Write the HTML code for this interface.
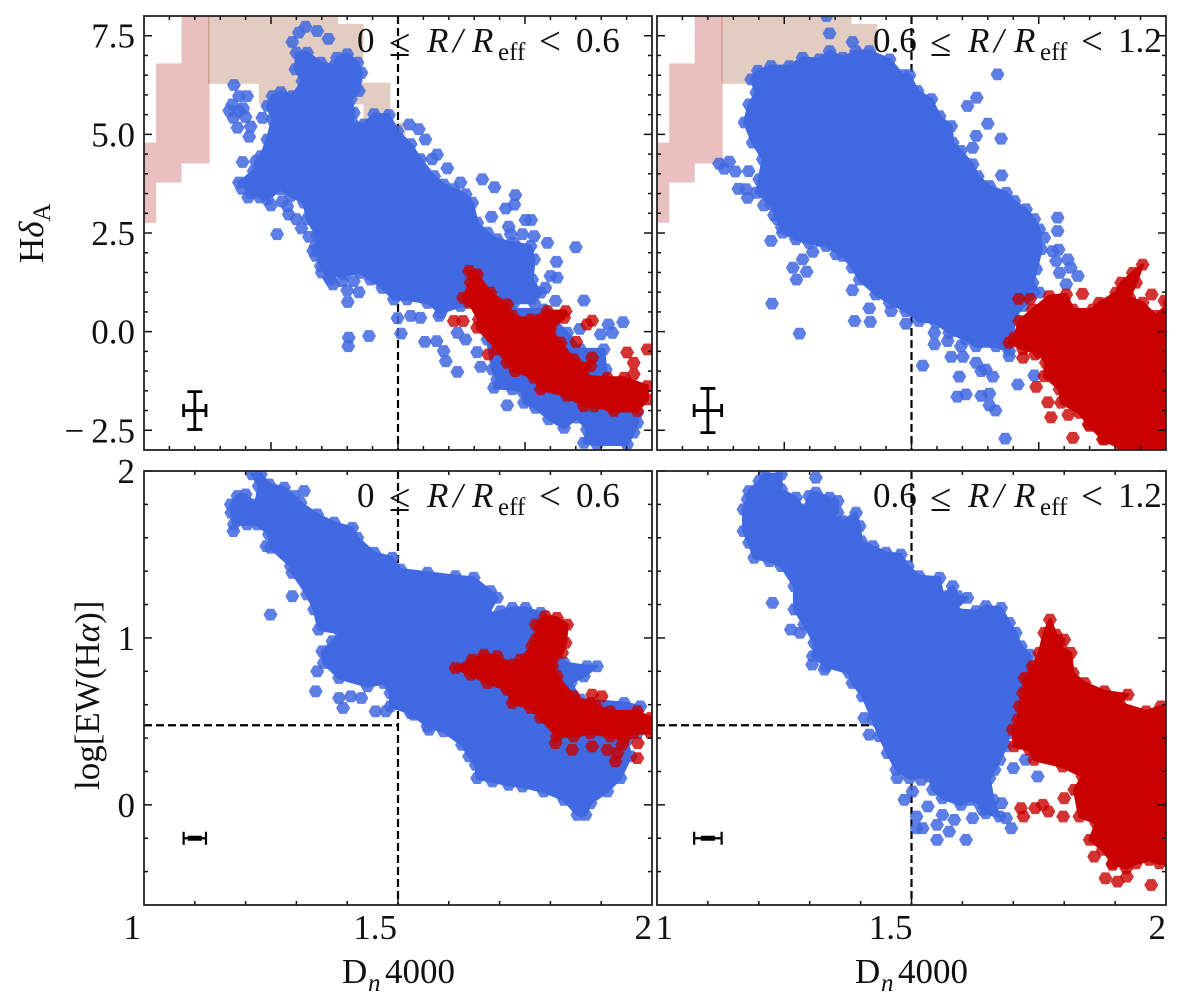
<!DOCTYPE html>
<html lang="en">
<head>
<meta charset="utf-8">
<title>Hδ and EW(Hα) versus Dn4000</title>
<style>
  html, body { margin: 0; padding: 0; background: #fff; }
  svg { display: block; }
  text { font-family: "Liberation Serif", "DejaVu Serif", serif; fill: #111; }
</style>
</head>
<body>
<svg id="figure" xmlns="http://www.w3.org/2000/svg" width="1200" height="1007" viewBox="0 0 1200 1007">
  <rect x="0" y="0" width="1200" height="1007" fill="#fff"/>
  <g id="panels"></g>

  <g font-size="35">
    <text y="52"><tspan x="357">0</tspan><tspan x="389" y="56" font-size="39">≤</tspan><tspan x="427" y="52" font-style="italic">R</tspan><tspan x="453" font-style="italic">/</tspan><tspan x="472" font-style="italic">R</tspan><tspan x="498" y="60" font-size="25">eff</tspan><tspan x="539" y="54" font-size="39">&lt;</tspan><tspan x="576" y="52">0.6</tspan></text>
  </g>
  <g font-size="35">
    <text y="52"><tspan x="873">0.6</tspan><tspan x="930" y="56" font-size="39">≤</tspan><tspan x="968" y="52" font-style="italic">R</tspan><tspan x="994" font-style="italic">/</tspan><tspan x="1014" font-style="italic">R</tspan><tspan x="1040" y="60" font-size="25">eff</tspan><tspan x="1081" y="54" font-size="39">&lt;</tspan><tspan x="1118" y="52">1.2</tspan></text>
  </g>
  <g font-size="35">
    <text y="507"><tspan x="357">0</tspan><tspan x="389" y="511" font-size="39">≤</tspan><tspan x="427" y="507" font-style="italic">R</tspan><tspan x="453" font-style="italic">/</tspan><tspan x="472" font-style="italic">R</tspan><tspan x="498" y="515" font-size="25">eff</tspan><tspan x="539" y="509" font-size="39">&lt;</tspan><tspan x="576" y="507">0.6</tspan></text>
  </g>
  <g font-size="35">
    <text y="507"><tspan x="873">0.6</tspan><tspan x="930" y="511" font-size="39">≤</tspan><tspan x="968" y="507" font-style="italic">R</tspan><tspan x="994" font-style="italic">/</tspan><tspan x="1014" font-style="italic">R</tspan><tspan x="1040" y="515" font-size="25">eff</tspan><tspan x="1081" y="509" font-size="39">&lt;</tspan><tspan x="1118" y="507">1.2</tspan></text>
  </g>

  <text y="983" font-size="35"><tspan x="342">D</tspan><tspan x="368" y="991" font-size="25" font-style="italic">n</tspan><tspan x="385" y="983">4000</tspan></text>
  <text y="983" font-size="35"><tspan x="855">D</tspan><tspan x="881" y="991" font-size="25" font-style="italic">n</tspan><tspan x="898" y="983">4000</tspan></text>
  <text transform="translate(43,263) rotate(-90)" font-size="35">H<tspan font-style="italic">δ</tspan><tspan dy="7" font-size="25">A</tspan></text>
  <text transform="translate(99,790) rotate(-90)" font-size="35">log[EW(H<tspan font-style="italic">α</tspan>)]</text>
</svg>

<script>
// ---------- axis data ----------
const xLimits = [1, 2];
const yLimitsTop = [-3, 8];
const yLimitsBottom = [-0.6, 2];

const xMajorTopRow = [1.25, 1.5, 1.75];
const xMinorTopRow = [1.05, 1.1, 1.15, 1.2, 1.3, 1.35, 1.4, 1.45, 1.55, 1.6, 1.65, 1.7, 1.8, 1.85, 1.9, 1.95];
const xMajorBottomRow = [1.5];
const xMinorBottomRow = [1.1, 1.2, 1.3, 1.4, 1.6, 1.7, 1.8, 1.9];
const yMajorTop = [-2.5, 0, 2.5, 5, 7.5];
const yMinorTop = [-2, -1.5, -1, -0.5, 0.5, 1, 1.5, 2, 3, 3.5, 4, 4.5, 5.5, 6, 6.5, 7];
const yMajorBottom = [0, 1, 2];
const yMinorBottom = [-0.4, -0.2, 0.2, 0.4, 0.6, 0.8, 1.2, 1.4, 1.6, 1.8];
const yLabelsTop = ['−\u20092.5', '0.0', '2.5', '5.0', '7.5'];
const yLabelsBottom = ['0', '1', '2'];
const xLabels = ['1', '1.5', '2'];
const xLabelValues = [1, 1.5, 2];

// ---------- shaded model regions ----------
const pinkEdges = [1, 1.024, 1.074, 1.129];
const pinkLower = [2.76, 3.78, 4.26];
const pinkUpper = [4.79, 6.80, 8.3];
const tanEdges = [1.126, 1.226, 1.382, 1.432, 1.485, 1.515];
const tanLower = [6.28, 5.76, 5.76, 4.96, 4.96];
const tanUpper = [8.3, 8.3, 7.8, 6.31, 5.3];

// ---------- reference lines ----------
const dn4000Divider = 1.5;
const ewDivider = 0.477;

// ---------- error bars: [x, y, xErr, yErr] ----------
const errTopLeft = [1.1, -2, 0.022, 0.48];
const errTopRight = [1.1, -2, 0.027, 0.56];
const errBottomLeft = [1.1, -0.2, 0.022, 0.012];
const errBottomRight = [1.1, -0.2, 0.027, 0.012];

// ---------- top-left panel ----------
const tlBlueRim = [[1.230,4.45],[1.243,4.87],[1.253,5.38],[1.243,5.72],[1.253,5.97],[1.269,6.07],[1.292,5.97],[1.312,6.35],[1.298,6.65],[1.300,7.07],[1.321,7.07],[1.348,6.82],[1.374,6.73],[1.380,6.94],[1.400,7.03],[1.420,6.82],[1.428,6.56],[1.423,6.10],[1.407,5.89],[1.413,5.55],[1.410,5.30],[1.433,5.25],[1.453,5.51],[1.482,5.49],[1.499,5.08],[1.525,4.75],[1.544,4.37],[1.571,3.94],[1.590,3.73],[1.610,3.61],[1.633,3.48],[1.646,3.27],[1.656,2.76],[1.676,2.51],[1.695,2.34],[1.728,2.25],[1.761,2.17],[1.768,1.83],[1.764,1.32],[1.781,0.99],[1.768,0.73],[1.728,0.73],[1.656,0.65],[1.623,0.65],[1.584,0.48],[1.558,0.73],[1.518,0.82],[1.492,0.82],[1.469,1.11],[1.446,1.32],[1.426,1.49],[1.394,1.45],[1.364,1.37],[1.348,1.66],[1.338,2.17],[1.341,2.42],[1.321,2.85],[1.315,3.27],[1.289,3.44],[1.269,3.61],[1.243,3.35],[1.210,3.52],[1.187,3.78],[1.216,4.07],[1.220,4.32]];
const tlBlueTail = [[1.676,-0.20],[1.686,-0.96],[1.695,-1.21],[1.689,-1.42],[1.725,-1.46],[1.745,-1.51],[1.748,-1.80],[1.771,-1.93],[1.797,-2.22],[1.827,-2.44],[1.853,-2.18],[1.872,-2.48],[1.866,-2.82],[1.892,-2.86],[1.951,-2.86],[1.964,-2.56],[1.971,-2.31],[1.971,-2.06],[1.918,-1.46],[1.909,-0.96],[1.905,-0.45],[1.859,-0.45],[1.833,-0.03],[1.787,0.56],[1.722,0.56]];
const tlBlueExtra = [[1.177,6.25],[1.174,5.76],[1.187,5.97],[1.203,5.97],[1.187,5.59],[1.200,5.44],[1.184,5.17],[1.207,4.94],[1.233,5.42],[1.194,4.30],[1.282,3.18],[1.285,2.97],[1.262,2.47],[1.403,-0.15],[1.402,-0.37],[1.443,-0.11],[1.401,0.75],[1.423,1.00],[1.413,1.28],[1.367,1.32],[1.390,1.28],[1.338,1.92],[1.499,0.34],[1.506,-0.05],[1.525,0.40],[1.544,0.35],[1.581,0.40],[1.553,-0.26],[1.576,-0.24],[1.590,-0.49],[1.594,-0.75],[1.617,-1.02],[1.522,5.25],[1.541,5.13],[1.554,4.87],[1.577,4.49],[1.567,4.37],[1.597,4.14],[1.623,3.78],[1.666,3.86],[1.690,3.66],[1.731,3.46],[1.729,3.22],[1.712,3.12],[1.684,2.91],[1.718,2.66],[1.722,2.47],[1.745,2.47],[1.768,2.42],[1.751,2.83],[1.762,2.83],[1.794,2.25],[1.850,2.14],[1.812,1.77],[1.813,1.37],[1.800,1.41],[1.790,1.11],[1.810,0.78],[1.866,0.79],[1.858,0.07],[1.914,0.18],[1.943,0.24],[1.922,-0.03],[1.899,-0.07],[1.656,-0.52],[1.663,-0.89],[1.617,-0.03],[1.633,-0.20],[1.715,-1.87],[1.292,7.34],[1.305,7.58],[1.318,7.73],[1.341,7.62],[1.363,7.42],[1.168,5.60],[1.176,5.42],[1.195,5.66],[1.210,5.20],[1.193,3.62],[1.205,3.40],[1.228,3.40],[1.250,3.20],[1.272,3.30],[1.300,2.85],[1.310,2.62],[1.325,2.40],[1.333,2.05],[1.350,1.50],[1.372,1.20],[1.400,1.05]];
const tlRedRim = [[1.640,1.54],[1.656,1.45],[1.682,0.99],[1.715,0.69],[1.725,0.40],[1.761,0.31],[1.794,0.52],[1.830,0.52],[1.827,0.35],[1.800,0.06],[1.820,-0.28],[1.846,-0.70],[1.879,-0.87],[1.866,-1.13],[1.912,-1.17],[1.945,-1.17],[1.991,-1.38],[1.991,-1.72],[1.971,-2.01],[1.925,-2.01],[1.886,-1.89],[1.866,-1.89],[1.833,-1.63],[1.781,-1.46],[1.768,-1.17],[1.731,-1.00],[1.715,-0.79],[1.695,-0.45],[1.656,0.10],[1.659,0.31],[1.640,0.73],[1.628,0.86],[1.643,1.24]];
const tlRedExtra = [[1.610,0.27],[1.628,0.27],[1.678,-0.58],[1.882,0.28],[1.872,0.18],[1.851,-0.26],[1.882,-0.66],[1.951,-0.53],[1.991,-0.45],[1.964,-0.79],[1.964,-1.08]];

// ---------- top-right panel ----------
const trBlueRim = [[1.198,6.61],[1.224,6.73],[1.260,6.73],[1.286,6.94],[1.319,6.90],[1.339,7.11],[1.365,6.94],[1.391,7.11],[1.417,7.11],[1.457,6.90],[1.483,6.50],[1.496,6.50],[1.512,6.10],[1.539,5.89],[1.555,5.46],[1.578,5.21],[1.581,4.79],[1.597,4.58],[1.620,4.24],[1.630,3.94],[1.653,3.69],[1.686,3.52],[1.702,3.31],[1.725,3.10],[1.741,2.85],[1.751,2.59],[1.755,2.09],[1.745,1.58],[1.738,1.24],[1.751,0.99],[1.719,0.65],[1.702,0.35],[1.699,-0.11],[1.692,-0.49],[1.666,-0.37],[1.627,-0.37],[1.607,-0.20],[1.574,-0.03],[1.548,0.23],[1.515,0.27],[1.489,0.52],[1.457,0.73],[1.430,0.94],[1.398,1.32],[1.384,1.62],[1.365,1.92],[1.332,2.17],[1.299,2.25],[1.273,2.34],[1.247,2.51],[1.237,2.85],[1.224,3.23],[1.195,3.52],[1.201,3.86],[1.208,4.37],[1.188,4.79],[1.172,5.30],[1.181,5.76],[1.195,6.06],[1.185,6.39]];
const trBlueExtra = [[1.669,6.52],[1.628,5.93],[1.610,5.72],[1.650,5.27],[1.627,4.96],[1.620,4.66],[1.676,4.89],[1.677,3.96],[1.339,7.56],[1.384,7.34],[1.333,8.0],[1.122,4.26],[1.142,4.31],[1.132,4.13],[1.154,4.06],[1.180,4.07],[1.160,3.62],[1.178,3.39],[1.175,3.61],[1.224,2.30],[1.226,0.71],[1.280,-0.05],[1.286,1.83],[1.267,1.62],[1.294,1.52],[1.274,1.32],[1.306,2.02],[1.352,1.96],[1.384,1.05],[1.417,0.59],[1.388,0.27],[1.419,0.25],[1.460,0.52],[1.489,0.20],[1.787,2.89],[1.787,2.55],[1.761,2.38],[1.777,2.04],[1.789,2.08],[1.807,1.83],[1.784,1.79],[1.813,1.62],[1.791,1.49],[1.827,1.41],[1.804,1.20],[1.545,-0.03],[1.571,-0.24],[1.597,-0.37],[1.545,-0.32],[1.578,-0.64],[1.601,-0.64],[1.627,-0.79],[1.522,-0.86],[1.594,-1.14],[1.646,-0.96],[1.637,-1.00],[1.660,-1.14],[1.709,-1.34],[1.653,-1.57],[1.637,-1.63],[1.607,-1.59],[1.590,-1.65],[1.653,-1.87],[1.665,-2.00],[1.684,-2.71],[1.692,-0.62],[1.741,-1.11],[1.210,3.20],[1.230,2.95],[1.245,2.65],[1.265,2.55],[1.320,2.30]];
const trRedRim = [[1.702,-0.15],[1.712,0.27],[1.738,0.56],[1.771,0.90],[1.804,0.94],[1.817,0.56],[1.856,0.56],[1.869,0.73],[1.902,0.99],[1.912,1.24],[1.935,1.49],[1.954,1.70],[1.941,1.24],[1.928,0.86],[1.954,0.73],[1.980,0.40],[2.006,0.73],[2.006,-2.98],[1.915,-2.98],[1.876,-2.73],[1.850,-2.39],[1.830,-2.06],[1.794,-1.80],[1.791,-1.46],[1.761,-1.13],[1.764,-0.79],[1.751,-0.53],[1.719,-0.45],[1.692,-0.28]];
const trRedExtra = [[1.711,0.83],[1.733,0.83],[1.836,0.96],[1.972,0.94],[1.997,0.78],[1.719,-0.66],[1.743,-0.58],[1.745,-1.40],[1.768,-1.79],[1.774,-2.17],[1.808,-2.11],[1.817,-2.69],[1.848,-2.35],[1.879,-2.73]];

// ---------- bottom-left panel ----------
const blBlueRim = [[1.171,1.80],[1.184,1.85],[1.200,1.86],[1.220,1.80],[1.226,1.91],[1.213,1.98],[1.230,1.98],[1.246,1.92],[1.276,1.90],[1.295,1.85],[1.308,1.81],[1.341,1.74],[1.374,1.69],[1.410,1.66],[1.420,1.60],[1.453,1.51],[1.489,1.48],[1.505,1.41],[1.558,1.39],[1.613,1.37],[1.649,1.36],[1.682,1.28],[1.695,1.24],[1.676,1.14],[1.702,1.16],[1.725,1.18],[1.751,1.18],[1.781,1.15],[1.827,0.85],[1.872,0.83],[1.892,0.83],[1.866,0.77],[1.840,0.73],[1.859,0.63],[1.945,0.61],[1.977,0.59],[1.971,0.43],[1.951,0.39],[1.958,0.29],[1.938,0.16],[1.912,0.08],[1.879,0.01],[1.869,-0.06],[1.853,-0.06],[1.827,0.03],[1.787,0.08],[1.745,0.11],[1.718,0.12],[1.686,0.14],[1.656,0.16],[1.653,0.24],[1.640,0.29],[1.626,0.36],[1.590,0.44],[1.558,0.47],[1.525,0.55],[1.485,0.59],[1.485,0.67],[1.472,0.73],[1.440,0.71],[1.384,0.76],[1.354,0.85],[1.351,0.92],[1.371,0.98],[1.387,1.03],[1.344,1.05],[1.335,1.17],[1.321,1.26],[1.292,1.39],[1.289,1.43],[1.249,1.54],[1.246,1.62],[1.223,1.68],[1.203,1.68],[1.177,1.68],[1.172,1.75]];
const blBlueExtra = [[1.176,1.64],[1.241,1.55],[1.249,1.14],[1.292,1.25],[1.315,1.88],[1.341,0.80],[1.338,0.68],[1.384,0.64],[1.407,0.65],[1.428,0.64],[1.392,0.58],[1.456,0.56],[1.476,0.56],[1.531,0.54],[1.561,0.45]];
const blRedRim = [[1.613,0.82],[1.646,0.87],[1.669,0.90],[1.695,0.89],[1.725,0.84],[1.741,0.87],[1.764,0.95],[1.771,0.99],[1.771,1.08],[1.790,1.13],[1.813,1.12],[1.833,1.08],[1.830,0.97],[1.823,0.91],[1.804,0.83],[1.813,0.77],[1.846,0.65],[1.879,0.61],[1.918,0.56],[1.971,0.56],[1.997,0.52],[1.997,0.43],[1.964,0.43],[1.945,0.39],[1.918,0.41],[1.879,0.43],[1.846,0.41],[1.813,0.41],[1.781,0.52],[1.761,0.58],[1.725,0.61],[1.715,0.69],[1.676,0.73],[1.643,0.78]];
const blRedExtra = [[1.882,0.66],[1.901,0.65],[1.889,0.59],[1.810,0.37],[1.843,0.33],[1.882,0.35],[1.912,0.33],[1.941,0.36],[1.932,0.31],[1.928,0.26],[1.972,0.37],[1.971,0.28]];

// ---------- bottom-right panel ----------
const brBlueRim = [[1.181,1.88],[1.201,1.94],[1.211,1.98],[1.244,1.98],[1.244,1.89],[1.273,1.84],[1.289,1.77],[1.299,1.85],[1.312,1.87],[1.339,1.84],[1.355,1.82],[1.355,1.75],[1.339,1.74],[1.365,1.70],[1.391,1.75],[1.398,1.67],[1.401,1.58],[1.424,1.55],[1.450,1.51],[1.479,1.50],[1.493,1.43],[1.515,1.37],[1.555,1.36],[1.561,1.25],[1.581,1.31],[1.591,1.25],[1.610,1.24],[1.584,1.17],[1.627,1.16],[1.646,1.19],[1.676,1.18],[1.692,1.09],[1.705,1.03],[1.715,0.95],[1.732,0.90],[1.735,0.83],[1.719,0.77],[1.712,0.65],[1.705,0.53],[1.692,0.43],[1.686,0.35],[1.673,0.27],[1.663,0.21],[1.653,0.16],[1.660,0.03],[1.673,-0.07],[1.646,-0.05],[1.633,0.01],[1.614,0.03],[1.597,0.00],[1.561,0.04],[1.542,0.09],[1.535,0.17],[1.496,0.16],[1.470,0.21],[1.453,0.31],[1.437,0.41],[1.424,0.51],[1.404,0.65],[1.384,0.73],[1.378,0.79],[1.332,0.83],[1.306,0.89],[1.309,0.97],[1.289,1.08],[1.270,1.17],[1.270,1.31],[1.244,1.43],[1.221,1.46],[1.191,1.48],[1.181,1.57],[1.170,1.64],[1.170,1.77],[1.178,1.83]];
const brBlueExtra = [[1.312,1.96],[1.227,1.21],[1.263,1.05],[1.281,1.03],[1.305,0.84],[1.329,0.81],[1.407,0.52],[1.417,0.42],[1.472,0.16],[1.519,0.15],[1.486,0.03],[1.502,0.08],[1.532,-0.01],[1.510,-0.07],[1.561,-0.06],[1.550,-0.12],[1.510,-0.14],[1.522,-0.14],[1.574,-0.16],[1.584,-0.09],[1.620,-0.08],[1.677,0.01],[1.640,-0.03],[1.686,-0.08],[1.696,-0.14],[1.607,-0.21],[1.550,-0.21],[1.700,0.22],[1.724,0.27],[1.748,0.17]];
const brRedRim = [[1.772,1.11],[1.784,1.02],[1.800,0.99],[1.794,0.94],[1.813,0.91],[1.817,0.79],[1.840,0.73],[1.879,0.68],[1.925,0.66],[1.908,0.61],[1.961,0.56],[1.990,0.59],[2.007,0.57],[2.007,-0.35],[1.987,-0.35],[1.967,-0.33],[1.941,-0.35],[1.922,-0.38],[1.895,-0.35],[1.876,-0.27],[1.850,-0.21],[1.863,-0.11],[1.830,-0.07],[1.820,0.09],[1.836,0.17],[1.797,0.23],[1.741,0.27],[1.732,0.33],[1.702,0.35],[1.699,0.45],[1.709,0.51],[1.712,0.59],[1.719,0.67],[1.722,0.76],[1.738,0.83],[1.751,0.91],[1.761,1.03]];
const brRedExtra = [[1.715,-0.02],[1.720,-0.07],[1.743,-0.02],[1.758,0.00],[1.769,-0.04],[1.798,-0.07],[1.800,0.04],[1.859,-0.31],[1.895,-0.36],[1.881,-0.44],[1.905,-0.46],[1.923,-0.43],[1.971,-0.48]];

// ---------- rendering ----------
const SVGNS = 'http://www.w3.org/2000/svg';
const root = document.getElementById('panels');
const BLUE = '#4169e1';
const RED = '#c80000';
const HEX_W = 7;
const HEX_H = 5.9;

function make(tag, parent, attrs) {
  const el = document.createElementNS(SVGNS, tag);
  for (const k in attrs) el.setAttribute(k, attrs[k]);
  parent.appendChild(el);
  return el;
}

function scale(domain, a, b) {
  return v => a + (v - domain[0]) / (domain[1] - domain[0]) * (b - a);
}

function drawShade(g, sx, sy, edges, lower, upper, fill, name) {
  const top = [];
  const bottom = [];
  for (let i = 0; i < upper.length; i++) {
    top.push(sx(edges[i]) + ',' + sy(upper[i]));
    top.push(sx(edges[i + 1]) + ',' + sy(upper[i]));
    bottom.unshift(sx(edges[i]) + ',' + sy(lower[i]));
    bottom.unshift(sx(edges[i + 1]) + ',' + sy(lower[i]));
  }
  const el = make('polygon', g, { points: top.concat(bottom).join(' '), fill: fill, 'fill-opacity': 0.29 });
  
  
}

function drawHex(g, sx, sy, pt, color, opacity, name) {
  const cx = sx(pt[0]);
  const cy = sy(pt[1]);
  const pts = [
    [cx - HEX_W, cy], [cx - HEX_W / 2, cy - HEX_H], [cx + HEX_W / 2, cy - HEX_H],
    [cx + HEX_W, cy], [cx + HEX_W / 2, cy + HEX_H], [cx - HEX_W / 2, cy + HEX_H]
  ].map(p => p[0].toFixed(1) + ',' + p[1].toFixed(1)).join(' ');
  const el = make('polygon', g, { points: pts, fill: color, 'fill-opacity': opacity });
  
  
}

function drawMass(g, sx, sy, ring, color, opacity, name) {
  const core = make('polygon', g, {
    points: ring.map(p => sx(p[0]).toFixed(1) + ',' + sy(p[1]).toFixed(1)).join(' '),
    fill: color, stroke: color, 'stroke-width': 3, 'stroke-linejoin': 'round'
  });
  
  
  ring.forEach(p => drawHex(g, sx, sy, p, color, opacity, name + '-hexbin'));
}

function drawErrorBar(g, sx, sy, e, name) {
  const cx = sx(e[0]);
  const cy = sy(e[1]);
  const x0 = sx(e[0] - e[2]);
  const x1 = sx(e[0] + e[2]);
  const y0 = sy(e[1] - e[3]);
  const y1 = sy(e[1] + e[3]);
  const d = 'M' + x0 + ' ' + cy + 'H' + x1 + 'M' + cx + ' ' + y0 + 'V' + y1 +
    'M' + x0 + ' ' + (cy - 6.5) + 'V' + (cy + 6.5) + 'M' + x1 + ' ' + (cy - 6.5) + 'V' + (cy + 6.5);
  const capV = e[3] > 0.1 ? 'M' + (cx - 7.5) + ' ' + y0 + 'H' + (cx + 7.5) + 'M' + (cx - 7.5) + ' ' + y1 + 'H' + (cx + 7.5) : '';
  const thick = e[3] > 0.1 ? 2.8 : 2.2;
  const el = make('path', g, { d: d + capV, fill: 'none', stroke: '#000', 'stroke-width': thick });
  
  
  if (e[3] <= 0.1) {
    const core = make('rect', g, { x: cx - 7, y: cy - 2.5, width: 14, height: 5, fill: '#000' });
    
    
  }
}

function drawTick(g, x1, y1, x2, y2, name) {
  const el = make('line', g, { x1: x1, y1: y1, x2: x2, y2: y2, stroke: '#111', 'stroke-width': 1.5 });
  
  
}

function drawLabel(g, x, y, str, name) {
  const el = make('text', g, { x: x, y: y, 'font-size': 35, 'text-anchor': 'end' });
  el.textContent = str;
  
  
}

const panelDefs = [
  { id: 'top-left', x0: 144, x1: 652, y0: 16, y1: 450, ylim: yLimitsTop, shade: true, hline: false,
    xMajor: xMajorTopRow, xMinor: xMinorTopRow, yMajor: yMajorTop, yMinor: yMinorTop, err: errTopLeft,
    yLabels: yLabelsTop, masses: [[tlBlueRim, BLUE], [tlBlueTail, BLUE]], blueExtra: tlBlueExtra,
    redRim: tlRedRim, redExtra: tlRedExtra },
  { id: 'top-right', x0: 657, x1: 1166, y0: 16, y1: 450, ylim: yLimitsTop, shade: true, hline: false,
    xMajor: xMajorTopRow, xMinor: xMinorTopRow, yMajor: yMajorTop, yMinor: yMinorTop, err: errTopRight,
    yLabels: null, masses: [[trBlueRim, BLUE]], blueExtra: trBlueExtra,
    redRim: trRedRim, redExtra: trRedExtra },
  { id: 'bottom-left', x0: 144, x1: 652, y0: 471, y1: 905, ylim: yLimitsBottom, shade: false, hline: true,
    xMajor: xMajorBottomRow, xMinor: xMinorBottomRow, yMajor: yMajorBottom, yMinor: yMinorBottom, err: errBottomLeft,
    yLabels: yLabelsBottom, masses: [[blBlueRim, BLUE]], blueExtra: blBlueExtra,
    redRim: blRedRim, redExtra: blRedExtra, xLabelOffset: [-3, -1, 0] },
  { id: 'bottom-right', x0: 657, x1: 1166, y0: 471, y1: 905, ylim: yLimitsBottom, shade: false, hline: true,
    xMajor: xMajorBottomRow, xMinor: xMinorBottomRow, yMajor: yMajorBottom, yMinor: yMinorBottom, err: errBottomRight,
    yLabels: null, masses: [[brBlueRim, BLUE]], blueExtra: brBlueExtra,
    redRim: brRedRim, redExtra: brRedExtra, xLabelOffset: [16, 1, 0] }
];

panelDefs.forEach(p => {
  const g = make('g', root, {});
  
  
  const sx = scale(xLimits, p.x0, p.x1);
  const sy = scale(p.ylim, p.y1, p.y0);

  const defs = make('defs', g, {});
  const clip = make('clipPath', defs, { id: 'clip-' + p.id });
  make('rect', clip, { x: p.x0, y: p.y0, width: p.x1 - p.x0, height: p.y1 - p.y0 });

  const plot = make('g', g, { 'clip-path': 'url(#clip-' + p.id + ')' });
  
  

  if (p.shade) {
    drawShade(plot, sx, sy, pinkEdges, pinkLower, pinkUpper, '#b22222', 'model-region-pink');
    drawShade(plot, sx, sy, tanEdges, tanLower, tanUpper, '#a0522d', 'model-region-tan');
  }

  const vx = sx(dn4000Divider);
  const vline = make('line', plot, { x1: vx, y1: p.y0, x2: vx, y2: p.y1, stroke: '#000', 'stroke-width': 2.2, 'stroke-dasharray': '8 4' });
  
  
  if (p.hline) {
    const hy = sy(ewDivider);
    const hline = make('line', plot, { x1: p.x0, y1: hy, x2: vx, y2: hy, stroke: '#000', 'stroke-width': 2.2, 'stroke-dasharray': '8 4' });
    
    
  }

  p.masses.forEach(m => drawMass(plot, sx, sy, m[0], m[1], 0.85, 'blue-population'));
  p.blueExtra.forEach(pt => drawHex(plot, sx, sy, pt, BLUE, 0.85, 'blue-population-hexbin'));
  drawMass(plot, sx, sy, p.redRim, RED, 0.8, 'red-population');
  p.redExtra.forEach(pt => drawHex(plot, sx, sy, pt, RED, 0.8, 'red-population-hexbin'));

  drawErrorBar(plot, sx, sy, p.err, 'typical-error-bar');

  p.xMajor.forEach(v => {
    drawTick(g, sx(v), p.y1, sx(v), p.y1 - 8, 'x-major-tick');
    drawTick(g, sx(v), p.y0, sx(v), p.y0 + 8, 'x-major-tick');
  });
  p.xMinor.forEach(v => {
    drawTick(g, sx(v), p.y1, sx(v), p.y1 - 4, 'x-minor-tick');
    drawTick(g, sx(v), p.y0, sx(v), p.y0 + 4, 'x-minor-tick');
  });
  p.yMajor.forEach(v => {
    drawTick(g, p.x0, sy(v), p.x0 + 8, sy(v), 'y-major-tick');
    drawTick(g, p.x1, sy(v), p.x1 - 8, sy(v), 'y-major-tick');
  });
  p.yMinor.forEach(v => {
    drawTick(g, p.x0, sy(v), p.x0 + 4, sy(v), 'y-minor-tick');
    drawTick(g, p.x1, sy(v), p.x1 - 4, sy(v), 'y-minor-tick');
  });

  const frame = make('rect', g, { x: p.x0, y: p.y0, width: p.x1 - p.x0, height: p.y1 - p.y0, fill: 'none', stroke: '#222', 'stroke-width': 1.8 });
  
  

  if (p.yLabels) {
    p.yMajor.forEach((v, i) => drawLabel(g, 135, sy(v) + 12, p.yLabels[i], 'y-tick-label'));
  }
  if (p.xLabelOffset) {
    xLabelValues.forEach((v, i) => drawLabel(g, sx(v) + p.xLabelOffset[i], 939, xLabels[i], 'x-tick-label'));
  }
});
</script>
</body>
</html>
